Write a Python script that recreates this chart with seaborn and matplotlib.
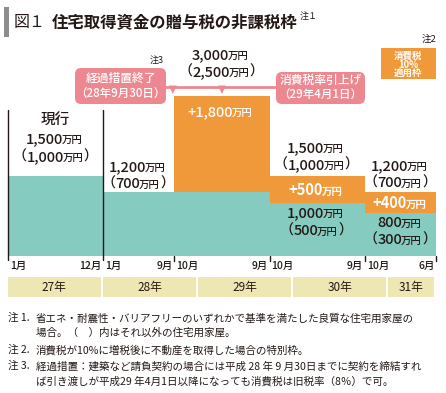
import matplotlib
matplotlib.use("Agg")
import matplotlib.pyplot as plt
import matplotlib.transforms as mtransforms
from matplotlib.patches import FancyBboxPatch, Rectangle, Polygon
import seaborn as sns

# data: months counted from 27年1月
seg_start = [0, 12, 21, 33, 45]
seg_end = [12, 21, 33, 45, 54]
base_amount = [1500, 1200, 1200, 1000, 800]     # 万円 (teal)
extra_amount = [0, 0, 1800, 500, 400]           # 万円 (orange, 消費税10%適用枠)
start_labels = ['1月', '1月', '10月', '10月', '10月']
end_labels = ['12月', '9月', '9月', '9月', '6月']
years = ['27年', '28年', '29年', '30年', '31年']
year_start = [0, 12, 24, 36, 48]
year_end = [12, 24, 36, 48, 54]

teal = '#86CBBF'
orange = '#F0993B'
pink = '#EE8890'
band = '#EEE7B3'
txt = '#231815'

sns.set_theme(style='white')
plt.rcParams['font.family'] = ['Noto Sans CJK JP', 'DejaVu Sans']

fig = plt.figure(figsize=(4.46, 3.93), dpi=100)

ax = fig.add_axes([8 / 446, 137 / 393, 428 / 446, 160 / 393])
ax.set_xlim(0, 54)
ax.set_ylim(0, 3000)
ax.axis('off')

ov = fig.add_axes([0, 0, 1, 1])
ov.set_xlim(0, 446)
ov.set_ylim(393, 0)
ov.axis('off')
ov.set_zorder(5)

widths = [e - s for s, e in zip(seg_start, seg_end)]
ax.bar(seg_start, base_amount, width=widths, align='edge', color=teal, lw=0)
ax.bar(seg_start, extra_amount, bottom=base_amount, width=widths, align='edge',
       color=orange, lw=0)

# x in months, y in pixels
bt = mtransforms.blended_transform_factory(ax.transData, ov.transData)

# vertical lines for 現行 period
for m in [0, 12]:
    ov.plot([m, m], [110, 260], color=txt, lw=1, transform=bt)
for m in seg_end[1:]:
    ov.plot([m, m], [256, 261], color=txt, lw=1, transform=bt)

for m, s in zip(seg_start, start_labels):
    ov.text(m + 0.25, 266, s, transform=bt, ha='left', va='center',
            fontsize=7.5, fontweight='medium', color=txt)
for m, s in zip(seg_end, end_labels):
    ov.text(m - 0.2, 266, s, transform=bt, ha='right', va='center',
            fontsize=7.5, fontweight='medium', color=txt)

for s, e, y in zip(year_start, year_end, years):
    ov.add_patch(Rectangle((s, 277), e - s - 0.3, 20, transform=bt,
                           facecolor=band, lw=0))
    ov.text((s + e - 0.3) / 2, 287, y, transform=bt, ha='center', va='center',
            fontsize=8.5, color=txt)

renderer = fig.canvas.get_renderer()


def rich(x, y, parts, color=txt, weight='medium'):
    arts = []
    first = ov.text(x, y, parts[0][0], fontsize=parts[0][1], ha='left',
                    va='center', color=color, fontweight=weight)
    arts.append(first)
    prev = first
    for s, fs in parts[1:]:
        dx = -1.0 if s == '万円' else 0.3
        dy = 0.6 if s == '万円' else 0
        a = ov.annotate(s, xy=(1, 0), xycoords=prev, xytext=(dx, dy),
                        textcoords='offset points', ha='left', va='bottom',
                        fontsize=fs, color=color, fontweight=weight)
        arts.append(a)
        prev = a
    total = sum(a.get_window_extent(renderer).width for a in arts)
    first.set_x(x - total / 2)


def amount(x, y, num, paren=False, plus=False, color=txt, weight='medium'):
    parts = []
    if paren:
        parts.append(('（', 10))
    parts.append((('+' if plus else '') + num, 10.5))
    parts.append(('万円', 7.5))
    if paren:
        parts.append(('）', 10))
    rich(x, y, parts, color, weight)


# title
ov.add_patch(Rectangle((4, 7), 5, 30, facecolor='#8C8C8C', lw=0))
ov.text(14, 22, '図１', fontsize=11.5, va='center', color=txt)
ov.text(52, 22, '住宅取得資金の贈与税の非課税枠', fontsize=11.8,
        fontweight='bold', va='center', color=txt)
ov.text(300, 16, '注１', fontsize=6.5, va='center', color=txt)

# labels on bars
ov.text(55, 121, '現行', fontsize=10.5, ha='center', va='center',
        fontweight='medium', color=txt)
amount(55, 139, '1,500')
amount(55, 157, '1,000', paren=True)
amount(138, 167, '1,200')
amount(138, 184, '700', paren=True)
amount(221, 55, '3,000')
amount(221, 72, '2,500', paren=True)
amount(221, 112, '1,800', plus=True, color='white')
amount(316, 148, '1,500')
amount(316, 165, '1,000', paren=True)
amount(316, 190, '500', plus=True, color='white', weight='bold')
amount(316, 213, '1,000')
amount(316, 231, '500', paren=True)
amount(400, 166, '1,200')
amount(400, 183, '700', paren=True)
amount(400, 203, '400', plus=True, color='white', weight='bold')
amount(400, 223, '800')
amount(400, 240, '300', paren=True)

# callouts
ov.plot([160, 280], [86.5, 86.5], color=pink, lw=2, solid_capstyle='butt')
for m in [20.8, 27]:
    xp = 8 + m * 428 / 54
    ov.add_patch(Polygon([[xp - 4, 85.5], [xp + 4, 85.5], [xp, 94]],
                         closed=True, facecolor=pink, lw=0))
ov.add_patch(FancyBboxPatch((75, 68), 91, 36,
                            boxstyle='round,pad=0,rounding_size=6',
                            facecolor=pink, lw=0))
ov.text(120.5, 78, '経過措置終了', fontsize=8.5, ha='center', va='center',
        color='white', fontweight='medium')
ov.text(120.5, 94, '（28年9月30日）', fontsize=8.3, ha='center', va='center',
        color='white', fontweight='medium')
ov.add_patch(FancyBboxPatch((276, 72), 89, 32,
                            boxstyle='round,pad=0,rounding_size=6',
                            facecolor=pink, lw=0))
ov.text(320.5, 80, '消費税率引上げ', fontsize=8.5, ha='center', va='center',
        color='white', fontweight='medium')
ov.text(320.5, 95, '（29年4月1日）', fontsize=8.3, ha='center', va='center',
        color='white', fontweight='medium')
ov.text(157, 60, '注3', fontsize=6.5, ha='center', va='center', color=txt)

# legend box
ov.add_patch(Rectangle((381, 48), 55, 31, facecolor=orange, lw=0))
for yy, s in zip([56, 64.5, 73], ['消費税', '10%', '適用枠']):
    ov.text(408.5, yy, s, fontsize=6.8, ha='center', va='center',
            color='white', fontweight='bold')
ov.text(436, 39, '注2', fontsize=6.8, ha='right', va='center', color=txt)

# notes
fn = 7.6
ov.text(8, 318, '注 1.', fontsize=fn, va='center', color=txt)
ov.text(36, 318, '省エネ・耐震性・バリアフリーのいずれかで基準を満たした良質な住宅用家屋の',
        fontsize=fn, va='center', color=txt)
ov.text(36, 333, '場合。（　）内はそれ以外の住宅用家屋。', fontsize=fn, va='center', color=txt)
ov.text(8, 350, '注 2.', fontsize=fn, va='center', color=txt)
ov.text(36, 350, '消費税が10%に増税後に不動産を取得した場合の特別枠。',
        fontsize=fn, va='center', color=txt)
ov.text(8, 366, '注 3.', fontsize=fn, va='center', color=txt)
ov.text(36, 366, '経過措置：建築など請負契約の場合には平成 28 年 9 月30日までに契約を締結すれ',
        fontsize=fn, va='center', color=txt)
ov.text(36, 381, 'ば引き渡しが平成29 年4月1日以降になっても消費税は旧税率（8％）で可。',
        fontsize=fn, va='center', color=txt)

fig.savefig('out.png', dpi=100)
